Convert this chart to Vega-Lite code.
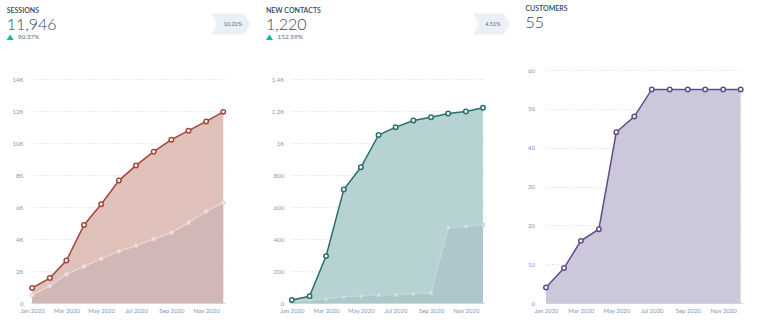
{
  "$schema": "https://vega.github.io/schema/vega-lite/v6.json",
  "background": "white",
  "padding": {"left": 6, "top": 4, "right": 5, "bottom": 4},
  "spacing": 14.7,
  "config": {
    "view": {"stroke": null},
    "font": "Lato",
    "axis": {"labelFont": "Lato", "labelFontSize": 6, "labelColor": "#7c98b6", "title": null},
    "axisY": {"grid": true, "gridDash": [1, 2], "gridColor": "#d5dde8", "domain": false, "ticks": false, "labelPadding": 8, "labelBaseline": "middle", "labelOverlap": false},
    "axisX": {"grid": false, "domainColor": "#cbd6e2", "tickColor": "#cbd6e2", "tickSize": -3, "labelPadding": 7, "labelFlush": false, "labelOverlap": false, "format": "%b %Y"},
    "title": {"anchor": "start", "font": "Lato", "fontSize": 7, "fontWeight": 600, "color": "#33475b", "subtitleFont": "Lato", "subtitleFontSize": 16, "subtitleFontWeight": 300, "subtitleColor": "#33475b", "subtitlePadding": 3}
  },
  "datasets": {
    "sessions": [
      {"month": "2020/01/01", "series": "current", "value": 940},
      {"month": "2020/02/01", "series": "current", "value": 1560},
      {"month": "2020/03/01", "series": "current", "value": 2650},
      {"month": "2020/04/01", "series": "current", "value": 4880},
      {"month": "2020/05/01", "series": "current", "value": 6170},
      {"month": "2020/06/01", "series": "current", "value": 7650},
      {"month": "2020/07/01", "series": "current", "value": 8600},
      {"month": "2020/08/01", "series": "current", "value": 9460},
      {"month": "2020/09/01", "series": "current", "value": 10210},
      {"month": "2020/10/01", "series": "current", "value": 10770},
      {"month": "2020/11/01", "series": "current", "value": 11350},
      {"month": "2020/12/01", "series": "current", "value": 11946},
      {"month": "2020/01/01", "series": "previous", "value": 500},
      {"month": "2020/02/01", "series": "previous", "value": 1060},
      {"month": "2020/03/01", "series": "previous", "value": 1790},
      {"month": "2020/04/01", "series": "previous", "value": 2290},
      {"month": "2020/05/01", "series": "previous", "value": 2770},
      {"month": "2020/06/01", "series": "previous", "value": 3230},
      {"month": "2020/07/01", "series": "previous", "value": 3580},
      {"month": "2020/08/01", "series": "previous", "value": 4000},
      {"month": "2020/09/01", "series": "previous", "value": 4400},
      {"month": "2020/10/01", "series": "previous", "value": 5020},
      {"month": "2020/11/01", "series": "previous", "value": 5730},
      {"month": "2020/12/01", "series": "previous", "value": 6270}
    ],
    "contacts": [
      {"month": "2020/01/01", "series": "current", "value": 19},
      {"month": "2020/02/01", "series": "current", "value": 42},
      {"month": "2020/03/01", "series": "current", "value": 293},
      {"month": "2020/04/01", "series": "current", "value": 709},
      {"month": "2020/05/01", "series": "current", "value": 848},
      {"month": "2020/06/01", "series": "current", "value": 1050},
      {"month": "2020/07/01", "series": "current", "value": 1099},
      {"month": "2020/08/01", "series": "current", "value": 1141},
      {"month": "2020/09/01", "series": "current", "value": 1161},
      {"month": "2020/10/01", "series": "current", "value": 1185},
      {"month": "2020/11/01", "series": "current", "value": 1197},
      {"month": "2020/12/01", "series": "current", "value": 1220},
      {"month": "2020/01/01", "series": "previous", "value": 10},
      {"month": "2020/02/01", "series": "previous", "value": 20},
      {"month": "2020/03/01", "series": "previous", "value": 25},
      {"month": "2020/04/01", "series": "previous", "value": 39},
      {"month": "2020/05/01", "series": "previous", "value": 44},
      {"month": "2020/06/01", "series": "previous", "value": 50},
      {"month": "2020/07/01", "series": "previous", "value": 52},
      {"month": "2020/08/01", "series": "previous", "value": 59},
      {"month": "2020/09/01", "series": "previous", "value": 63},
      {"month": "2020/10/01", "series": "previous", "value": 469},
      {"month": "2020/11/01", "series": "previous", "value": 479},
      {"month": "2020/12/01", "series": "previous", "value": 488}
    ],
    "customers": [
      {"month": "2020/01/01", "series": "current", "value": 4},
      {"month": "2020/02/01", "series": "current", "value": 9},
      {"month": "2020/03/01", "series": "current", "value": 16},
      {"month": "2020/04/01", "series": "current", "value": 19},
      {"month": "2020/05/01", "series": "current", "value": 44},
      {"month": "2020/06/01", "series": "current", "value": 48},
      {"month": "2020/07/01", "series": "current", "value": 55},
      {"month": "2020/08/01", "series": "current", "value": 55},
      {"month": "2020/09/01", "series": "current", "value": 55},
      {"month": "2020/10/01", "series": "current", "value": 55},
      {"month": "2020/11/01", "series": "current", "value": 55},
      {"month": "2020/12/01", "series": "current", "value": 55}
    ],
    "sessionsHeader": [{"pct": "90.37%", "badge": "10.21%"}],
    "contactsHeader": [{"pct": "152.59%", "badge": "4.51%"}]
  },
  "hconcat": [
    {
      "title": {"text": "SESSIONS", "subtitle": "11,946", "offset": -19},
      "width": 194,
      "height": 233,
      "layer": [
        {
          "data": {"name": "sessions"},
          "encoding": {
            "x": {"field": "month", "type": "temporal",
                  "scale": {"domain": [{"year": 2019, "month": 12, "date": 30}, {"year": 2020, "month": 12, "date": 4}], "nice": false},
                  "axis": {"values": [{"year": 2020, "month": 1, "date": 1}, {"year": 2020, "month": 3, "date": 1}, {"year": 2020, "month": 5, "date": 1}, {"year": 2020, "month": 7, "date": 1}, {"year": 2020, "month": 9, "date": 1}, {"year": 2020, "month": 11, "date": 1}]}},
            "y": {"field": "value", "type": "quantitative",
                  "scale": {"domain": [0, 14562.5], "nice": false, "zero": true},
                  "axis": {"values": [0, 2000, 4000, 6000, 8000, 10000, 12000, 14000], "labelExpr": "datum.value >= 1000 ? (datum.value / 1000) + 'K' : datum.value + ''"}}
          },
          "layer": [
            {"transform": [{"filter": "datum.series == 'current'"}], "mark": {"type": "area", "color": "#dfc1b9", "opacity": 1}},
            {"transform": [{"filter": "datum.series == 'previous'"}], "mark": {"type": "area", "color": "#9d98aa", "opacity": 0.2}},
            {"transform": [{"filter": "datum.series == 'previous'"}], "mark": {"type": "line", "color": "#ead9d5", "strokeWidth": 1.2}},
            {"transform": [{"filter": "datum.series == 'previous'"}], "mark": {"type": "point", "filled": true, "fill": "#efe3e0", "stroke": "#e5d2ce", "strokeWidth": 1, "size": 16, "opacity": 1}},
            {"transform": [{"filter": "datum.series == 'current'"}], "mark": {"type": "line", "color": "#a2463a", "strokeWidth": 1.5}},
            {"transform": [{"filter": "datum.series == 'current'"}], "mark": {"type": "point", "filled": true, "fill": "white", "stroke": "#a2463a", "strokeWidth": 1.5, "size": 20, "opacity": 1}}
          ]
        },
        {
          "data": {"name": "sessionsHeader"},
          "layer": [
            {"mark": {"type": "point", "shape": "M-1,-0.534L0.69,-0.534L1,0L0.69,0.534L-1,0.534L-0.74,0Z", "filled": true, "fill": "#eaf0f6", "strokeWidth": 0, "size": 1490, "opacity": 1},
             "encoding": {"x": {"datum": {"year": 2020, "month": 12, "date": 14, "hours": 12}, "type": "temporal"}, "y": {"datum": 17437, "type": "quantitative"}}},
            {"mark": {"type": "text", "fontSize": 5.5, "color": "#516f90", "align": "center", "baseline": "middle"},
             "encoding": {"x": {"datum": {"year": 2020, "month": 12, "date": 18}, "type": "temporal"}, "y": {"datum": 17437, "type": "quantitative"}, "text": {"field": "badge"}}},
            {"mark": {"type": "point", "shape": "M0,-0.8L1,0.8L-1,0.8Z", "filled": true, "fill": "#00bda5", "strokeWidth": 0, "size": 49, "opacity": 1},
             "encoding": {"x": {"datum": {"year": 2019, "month": 11, "date": 23, "hours": 12}, "type": "temporal"}, "y": {"datum": 16606, "type": "quantitative"}}},
            {"mark": {"type": "text", "fontSize": 6.5, "color": "#516f90", "align": "left", "baseline": "middle"},
             "encoding": {"x": {"datum": {"year": 2019, "month": 12, "date": 6, "hours": 17}, "type": "temporal"}, "y": {"datum": 16606, "type": "quantitative"}, "text": {"field": "pct"}}}
          ],
          "encoding": {
            "x": {"type": "temporal", "axis": {"values": [{"year": 2020, "month": 1, "date": 1}, {"year": 2020, "month": 3, "date": 1}, {"year": 2020, "month": 5, "date": 1}, {"year": 2020, "month": 7, "date": 1}, {"year": 2020, "month": 9, "date": 1}, {"year": 2020, "month": 11, "date": 1}]}},
            "y": {"type": "quantitative", "axis": {"values": [0, 2000, 4000, 6000, 8000, 10000, 12000, 14000], "labelExpr": "datum.value >= 1000 ? (datum.value / 1000) + 'K' : datum.value + ''"}}
          }
        }
      ]
    },
    {
      "title": {"text": "NEW CONTACTS", "subtitle": "1,220", "offset": -19},
      "width": 194,
      "height": 233,
      "layer": [
        {
          "data": {"name": "contacts"},
          "encoding": {
            "x": {"field": "month", "type": "temporal",
                  "scale": {"domain": [{"year": 2019, "month": 12, "date": 30}, {"year": 2020, "month": 12, "date": 4}], "nice": false},
                  "axis": {"values": [{"year": 2020, "month": 1, "date": 1}, {"year": 2020, "month": 3, "date": 1}, {"year": 2020, "month": 5, "date": 1}, {"year": 2020, "month": 7, "date": 1}, {"year": 2020, "month": 9, "date": 1}, {"year": 2020, "month": 11, "date": 1}]}},
            "y": {"field": "value", "type": "quantitative",
                  "scale": {"domain": [0, 1456.25], "nice": false},
                  "axis": {"values": [0, 200, 400, 600, 800, 1000, 1200, 1400], "labelPadding": 7, "labelExpr": "datum.value >= 1000 ? (datum.value / 1000) + 'K' : datum.value + ''"}}
          },
          "layer": [
            {"transform": [{"filter": "datum.series == 'current'"}], "mark": {"type": "area", "color": "#b7d2d2", "opacity": 1}},
            {"transform": [{"filter": "datum.series == 'previous'"}], "mark": {"type": "area", "color": "#8d9cb0", "opacity": 0.2}},
            {"transform": [{"filter": "datum.series == 'previous'"}], "mark": {"type": "line", "color": "#c3d9d9", "strokeWidth": 1.2}},
            {"transform": [{"filter": "datum.series == 'previous'"}], "mark": {"type": "point", "filled": true, "fill": "#d3e3e3", "stroke": "#bfd5d5", "strokeWidth": 1, "size": 16, "opacity": 1}},
            {"transform": [{"filter": "datum.series == 'current'"}], "mark": {"type": "line", "color": "#2a6f6d", "strokeWidth": 1.5}},
            {"transform": [{"filter": "datum.series == 'current'"}], "mark": {"type": "point", "filled": true, "fill": "white", "stroke": "#2a6f6d", "strokeWidth": 1.5, "size": 20, "opacity": 1}}
          ]
        },
        {
          "data": {"name": "contactsHeader"},
          "layer": [
            {"mark": {"type": "point", "shape": "M-1,-0.561L0.67,-0.561L1,0L0.67,0.561L-1,0.561L-0.73,0Z", "filled": true, "fill": "#eaf0f6", "strokeWidth": 0, "size": 1347, "opacity": 1},
             "encoding": {"x": {"datum": {"year": 2020, "month": 12, "date": 16, "hours": 8}, "type": "temporal"}, "y": {"datum": 1744, "type": "quantitative"}}},
            {"mark": {"type": "text", "fontSize": 5.5, "color": "#516f90", "align": "center", "baseline": "middle"},
             "encoding": {"x": {"datum": {"year": 2020, "month": 12, "date": 18, "hours": 12}, "type": "temporal"}, "y": {"datum": 1744, "type": "quantitative"}, "text": {"field": "badge"}}},
            {"mark": {"type": "point", "shape": "M0,-0.8L1,0.8L-1,0.8Z", "filled": true, "fill": "#00bda5", "strokeWidth": 0, "size": 49, "opacity": 1},
             "encoding": {"x": {"datum": {"year": 2019, "month": 11, "date": 22, "hours": 19}, "type": "temporal"}, "y": {"datum": 1661, "type": "quantitative"}}},
            {"mark": {"type": "text", "fontSize": 6.5, "color": "#516f90", "align": "left", "baseline": "middle"},
             "encoding": {"x": {"datum": {"year": 2019, "month": 12, "date": 6, "hours": 17}, "type": "temporal"}, "y": {"datum": 1661, "type": "quantitative"}, "text": {"field": "pct"}}}
          ],
          "encoding": {
            "x": {"type": "temporal", "axis": {"values": [{"year": 2020, "month": 1, "date": 1}, {"year": 2020, "month": 3, "date": 1}, {"year": 2020, "month": 5, "date": 1}, {"year": 2020, "month": 7, "date": 1}, {"year": 2020, "month": 9, "date": 1}, {"year": 2020, "month": 11, "date": 1}]}},
            "y": {"type": "quantitative", "axis": {"values": [0, 200, 400, 600, 800, 1000, 1200, 1400], "labelPadding": 7, "labelExpr": "datum.value >= 1000 ? (datum.value / 1000) + 'K' : datum.value + ''"}}
          }
        }
      ]
    },
    {
      "title": {"text": "CUSTOMERS", "subtitle": "55", "offset": 36.5, "dx": -2},
      "width": 197,
      "height": 233,
      "data": {"name": "customers"},
      "encoding": {
        "x": {"field": "month", "type": "temporal",
              "scale": {"domain": [{"year": 2019, "month": 12, "date": 31}, {"year": 2020, "month": 12, "date": 4}], "nice": false},
              "axis": {"values": [{"year": 2020, "month": 1, "date": 1}, {"year": 2020, "month": 3, "date": 1}, {"year": 2020, "month": 5, "date": 1}, {"year": 2020, "month": 7, "date": 1}, {"year": 2020, "month": 9, "date": 1}, {"year": 2020, "month": 11, "date": 1}]}},
        "y": {"field": "value", "type": "quantitative",
              "scale": {"domain": [0, 60], "nice": false},
              "axis": {"values": [0, 10, 20, 30, 40, 50, 60], "labelPadding": 11}}
      },
      "layer": [
        {"mark": {"type": "area", "color": "#cdc7db", "opacity": 1}},
        {"mark": {"type": "line", "color": "#5f4f88", "strokeWidth": 1.5}},
        {"mark": {"type": "point", "filled": true, "fill": "white", "stroke": "#5f4f88", "strokeWidth": 1.5, "size": 20, "opacity": 1}}
      ]
    }
  ]
}
